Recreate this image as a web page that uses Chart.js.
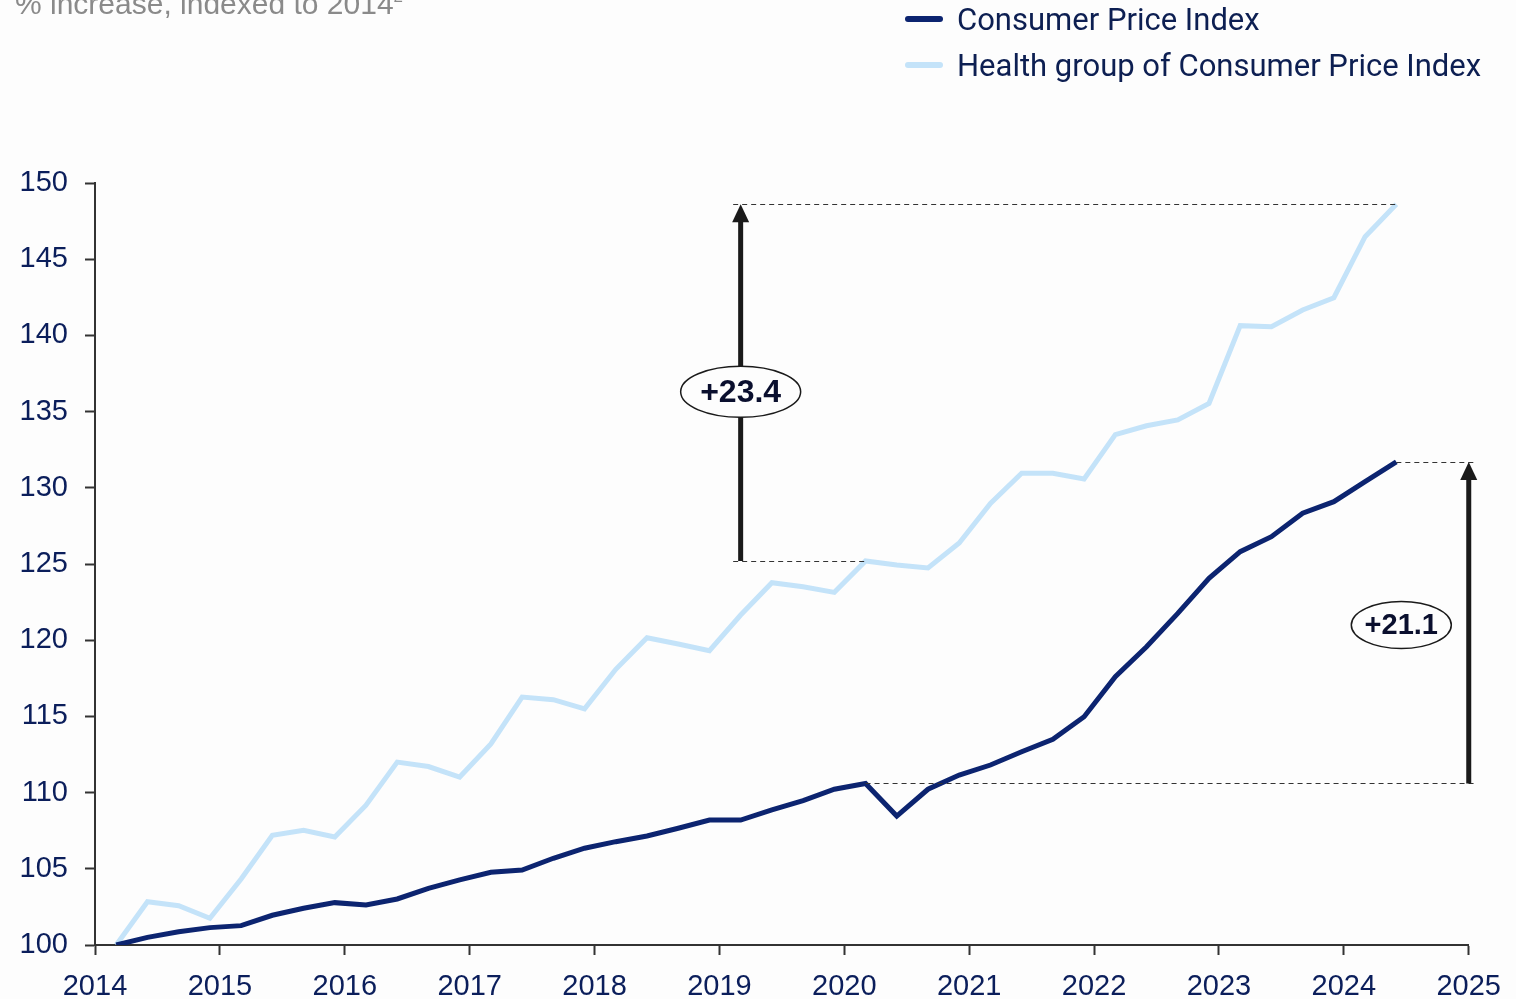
<!DOCTYPE html>
<html>
<head>
<meta charset="utf-8">
<script src="https://cdn.jsdelivr.net/npm/chart.js@4.4.1/dist/chart.umd.min.js"></script>
<style>
  html, body { margin: 0; padding: 0; background: #fdfdfd; overflow: hidden; }
  #wrap { position: relative; width: 1516px; height: 999px; }
  #title {
    position: absolute; left: 15px; top: -11px; margin: 0;
    font: 30px "Liberation Sans", Arial, sans-serif; line-height: 30px;
    color: #8a8a8a; white-space: nowrap;
  }
  #title sup { font-size: 17px; vertical-align: 12px; line-height: 0; }
  .legend-item {
    position: absolute; left: 905px; height: 34px;
    display: flex; align-items: center;
    font: 31px Roboto, "Noto Sans", sans-serif; color: #0d1f52; white-space: nowrap;
  }
  .legend-item .swatch {
    width: 38px; height: 6px; border-radius: 3px; margin-right: 14px;
  }
</style>
</head>
<body>
<div id="wrap">
  <canvas id="chart"></canvas>
  <p id="title">% increase, indexed to 2014<sup>2</sup></p>
  <div id="legend"></div>
</div>
<script>
// quarterly observations, as decimal years
const quarters = [
  2014.17, 2014.42, 2014.67, 2014.92,
  2015.17, 2015.42, 2015.67, 2015.92,
  2016.17, 2016.42, 2016.67, 2016.92,
  2017.17, 2017.42, 2017.67, 2017.92,
  2018.17, 2018.42, 2018.67, 2018.92,
  2019.17, 2019.42, 2019.67, 2019.92,
  2020.17, 2020.42, 2020.67, 2020.92,
  2021.17, 2021.42, 2021.67, 2021.92,
  2022.17, 2022.42, 2022.67, 2022.92,
  2023.17, 2023.42, 2023.67, 2023.92,
  2024.17, 2024.42,
];

const cpi = [
  100.0, 100.5, 100.87, 101.14, 101.27, 101.95, 102.41, 102.78,
  102.62, 103.02, 103.72, 104.27, 104.77, 104.92, 105.69, 106.35,
  106.78, 107.15, 107.66, 108.2, 108.2, 108.86, 109.47, 110.22,
  110.6, 108.46, 110.22, 111.15, 111.81, 112.68, 113.5, 114.98,
  117.6, 119.57, 121.76, 124.06, 125.81, 126.79, 128.33, 129.09,
  130.4, 131.7,
];

const healthCpi = [
  100.0, 102.84, 102.58, 101.75, 104.33, 107.2, 107.53, 107.09,
  109.17, 112.0, 111.71, 111.02, 113.19, 116.27, 116.1, 115.5,
  118.09, 120.16, 119.75, 119.31, 121.65, 123.77, 123.51, 123.14,
  125.2, 124.93, 124.74, 126.38, 128.98, 130.95, 130.95, 130.58,
  133.49, 134.07, 134.45, 135.53, 140.64, 140.57, 141.67, 142.47,
  146.48, 148.6,
];

const seriesNames = ["Consumer Price Index", "Health group of Consumer Price Index"];
const seriesColors = ["#0c2470", "#c4e3f9"];

const yearTicks = [2014, 2015, 2016, 2017, 2018, 2019, 2020, 2021, 2022, 2023, 2024, 2025];

// change arrows (data coordinates)
const arrowX = [2019.17, 2025.0];
const arrowFrom = [125.2, 110.6];
const arrowTo = [148.6, 131.7];
const arrowLabels = ["+23.4", "+21.1"];
const labelX = [2019.17, 2024.46];
const labelY = [136.3, 121.0];

// dotted guides
const guideY = [148.6, 125.2, 131.7, 110.6];
const guideFrom = [2019.11, 2019.11, 2024.42, 2020.17];
const guideTo = [2024.42, 2020.17, 2025.05, 2025.05];

// legend
const legend = document.getElementById("legend");
seriesNames.forEach((name, i) => {
  let item = document.createElement("div");
  item.className = "legend-item";
  item.style.top = (i === 0 ? 2 : 48) + "px";
  let sw = document.createElement("span");
  sw.className = "swatch";
  sw.style.background = seriesColors[i];
  item.appendChild(sw);
  item.appendChild(document.createTextNode(name));
  legend.appendChild(item);
});

// ellipse half-widths / half-heights for the two labels
const bubbleSize = [[60, 25.5], [50, 23.5]];

const arrowPlugin = {
  id: "arrows",
  afterDatasetsDraw(chart) {
    const { ctx } = chart;
    const x = chart.scales.x;
    const y = chart.scales.y;
    ctx.save();

    ctx.setLineDash([5, 4]);
    ctx.lineWidth = 1.2;
    ctx.strokeStyle = "#333";
    guideY.forEach((v, i) => {
      let py = Math.round(y.getPixelForValue(v)) + 0.5;
      ctx.beginPath();
      ctx.moveTo(x.getPixelForValue(guideFrom[i]), py);
      ctx.lineTo(x.getPixelForValue(guideTo[i]), py);
      ctx.stroke();
    });
    ctx.setLineDash([]);

    arrowX.forEach((v, i) => {
      let px = x.getPixelForValue(v);
      let y0 = y.getPixelForValue(arrowFrom[i]);
      let y1 = y.getPixelForValue(arrowTo[i]);
      ctx.strokeStyle = "#1a1a1a";
      ctx.fillStyle = "#1a1a1a";
      ctx.lineWidth = 5;
      ctx.beginPath();
      ctx.moveTo(px, y0);
      ctx.lineTo(px, y1 + 14);
      ctx.stroke();
      ctx.beginPath();
      ctx.moveTo(px, y1);
      ctx.lineTo(px - 8.5, y1 + 18);
      ctx.lineTo(px + 8.5, y1 + 18);
      ctx.closePath();
      ctx.fill();
    });

    ctx.textAlign = "center";
    ctx.textBaseline = "middle";
    arrowLabels.forEach((txt, i) => {
      let cx = x.getPixelForValue(labelX[i]);
      let cy = y.getPixelForValue(labelY[i]);
      ctx.beginPath();
      ctx.ellipse(cx, cy, bubbleSize[i][0], bubbleSize[i][1], 0, 0, Math.PI * 2);
      ctx.fillStyle = "#fdfdfd";
      ctx.fill();
      ctx.lineWidth = 1.5;
      ctx.strokeStyle = "#1a1a1a";
      ctx.stroke();
      ctx.fillStyle = "#0a0f2e";
      ctx.font = (i === 0 ? "bold 32px" : "bold 29px") + " 'Liberation Sans', Arial, sans-serif";
      ctx.fillText(txt, cx, cy + 1);
    });

    ctx.restore();
  },
};

const tickFont = { family: "'Liberation Sans', Arial, sans-serif", size: 29 };

new Chart(document.getElementById("chart"), {
  type: "line",
  data: {
    datasets: [
      {
        label: seriesNames[0],
        data: quarters.map((q, i) => ({ x: q, y: cpi[i] })),
        borderColor: seriesColors[0],
        borderWidth: 5,
        pointRadius: 0,
        tension: 0,
        borderJoinStyle: "miter",
      },
      {
        label: seriesNames[1],
        data: quarters.map((q, i) => ({ x: q, y: healthCpi[i] })),
        borderColor: seriesColors[1],
        borderWidth: 5,
        pointRadius: 0,
        tension: 0,
        borderJoinStyle: "miter",
      },
    ],
  },
  options: {
    responsive: true,
    maintainAspectRatio: false,
    animation: false,
    layout: { padding: { top: 183, right: 47, left: 0, bottom: 0 } },
    plugins: { legend: { display: false }, tooltip: { enabled: false } },
    scales: {
      x: {
        type: "linear",
        min: yearTicks[0],
        max: yearTicks[yearTicks.length - 1],
        afterBuildTicks: (scale) => {
          scale.ticks = yearTicks.map((v) => ({ value: v }));
        },
        afterFit: (scale) => { scale.height = 54; },
        ticks: {
          callback: (v) => String(v),
          color: "#0b1e5b",
          font: tickFont,
          padding: 15,
          maxRotation: 0,
          autoSkip: false,
        },
        grid: { drawOnChartArea: false, drawTicks: true, tickLength: 10, tickColor: "#333", tickWidth: 2 },
        border: { display: true, color: "#333", width: 2 },
      },
      y: {
        min: 100,
        max: 150,
        afterFit: (scale) => { scale.width = 95; },
        ticks: {
          stepSize: 5,
          color: "#0b1e5b",
          font: tickFont,
          padding: 17,
        },
        grid: { drawOnChartArea: false, drawTicks: true, tickLength: 10, tickColor: "#333", tickWidth: 2 },
        border: { display: true, color: "#333", width: 2 },
      },
    },
  },
  plugins: [arrowPlugin],
});
</script>
</body>
</html>
